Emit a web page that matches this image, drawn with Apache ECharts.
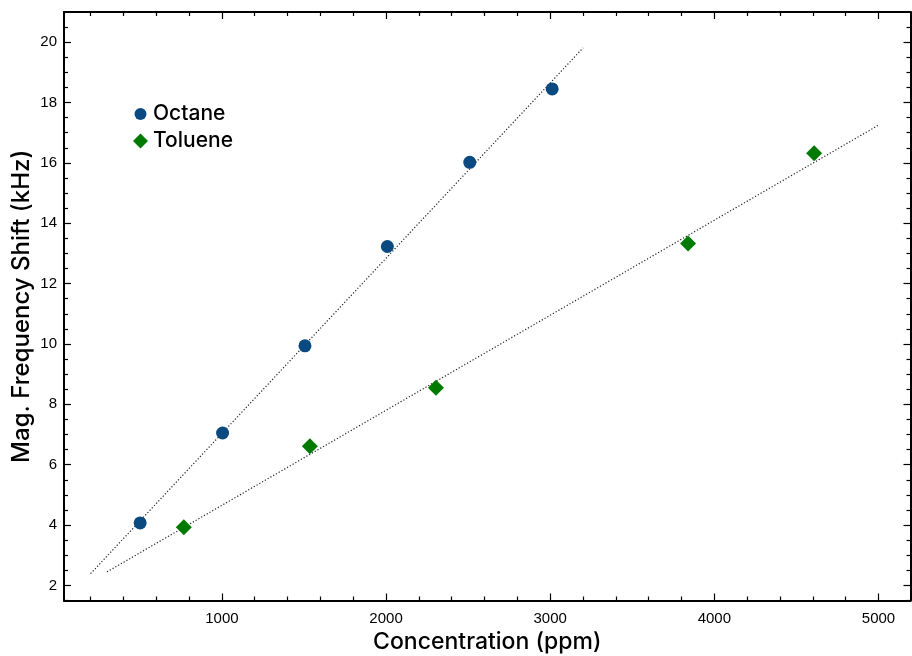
<!DOCTYPE html>
<html>
<head>
<meta charset="utf-8">
<title>Frequency shift vs concentration</title>
<script src="https://cdn.jsdelivr.net/npm/echarts@6/dist/echarts.min.js"></script>
<style>
  html, body { margin: 0; padding: 0; background: #fff; }
  #chart { width: 912px; height: 656px; }
</style>
</head>
<body>
<div id="chart"></div>
<script>
// Measured points: concentration (ppm) vs magnitude of frequency shift (kHz)
const octaneConc   = [502, 1004, 1506, 2008, 2510, 3012];
const octaneShift  = [4.07, 7.05, 9.94, 13.23, 16.02, 18.45];
const tolueneConc  = [768, 1536, 2304, 3840, 4608];
const tolueneShift = [3.93, 6.61, 8.55, 13.33, 16.32];

// Linear fit lines, given by their end points [ppm, kHz]
const octaneFit  = [[200, 2.39], [3200, 19.81]];
const tolueneFit = [[300, 2.45], [5000, 17.25]];

// Tick positions
const xMajorTicks = [1000, 2000, 3000, 4000, 5000];
const xMinorTicks = [200, 400, 600, 800, 1200, 1400, 1600, 1800, 2200, 2400, 2600, 2800,
                     3200, 3400, 3600, 3800, 4200, 4400, 4600, 4800];
const yMajorTicks = [2, 4, 6, 8, 10, 12, 14, 16, 18, 20];
const yMinorTicks = [1.5, 2.5, 3, 3.5, 4.5, 5, 5.5, 6.5, 7, 7.5, 8.5, 9, 9.5, 10.5, 11, 11.5,
                     12.5, 13, 13.5, 14.5, 15, 15.5, 16.5, 17, 17.5, 18.5, 19, 19.5, 20.5];

const X_MIN = 38, X_MAX = 5195, Y_MIN = 1.5, Y_MAX = 21;
const FONT = '"Liberation Sans", Arial, sans-serif';
const TITLE_FONT = 'Inter, "Liberation Sans", sans-serif';
const OCTANE_COLOR = '#0a4a80';
const TOLUENE_COLOR = '#007a00';
// Legend circle kept a little smaller than its 15px box (extra moveTo points pad the bounds)
const LEGEND_CIRCLE = 'path://M0,0M15,15M7.5,1.5A6,6,0,1,1,7.5,13.5A6,6,0,1,1,7.5,1.5Z';

function xAxisDef(pos, ticks, len, withLine, withLabels) {
  return {
    type: 'value', position: pos, min: X_MIN, max: X_MAX,
    axisLine: { show: withLine, onZero: false, lineStyle: { color: '#000', width: 2 } },
    axisTick: { show: true, inside: true, length: len, customValues: ticks,
                lineStyle: { color: '#000', width: 1.2 } },
    axisLabel: withLabels
      ? { show: true, customValues: ticks, margin: 11, color: '#000', fontSize: 15, fontFamily: FONT,
          formatter: v => String(v) }
      : { show: false },
    splitLine: { show: false }
  };
}
function yAxisDef(pos, ticks, len, withLine, withLabels) {
  return {
    type: 'value', position: pos, min: Y_MIN, max: Y_MAX,
    axisLine: { show: withLine, onZero: false, lineStyle: { color: '#000', width: 2 } },
    axisTick: { show: true, inside: true, length: len, customValues: ticks,
                lineStyle: { color: '#000', width: 1.2 } },
    axisLabel: withLabels
      ? { show: true, customValues: ticks, margin: 7, color: '#000', fontSize: 15, fontFamily: FONT,
          formatter: v => String(v) }
      : { show: false },
    splitLine: { show: false }
  };
}

const xMain = xAxisDef('bottom', xMajorTicks, 7, true, true);
xMain.name = 'Concentration (ppm)';
xMain.nameLocation = 'middle';
xMain.nameGap = 30;
xMain.nameMoveOverlap = false;
xMain.nameTextStyle = { color: '#000', fontSize: 23, fontWeight: 500, fontFamily: TITLE_FONT };

const yMain = yAxisDef('left', yMajorTicks, 7, true, true);
yMain.name = 'Mag. Frequency Shift (kHz)';
yMain.nameLocation = 'middle';
yMain.nameGap = 30;
yMain.nameMoveOverlap = false;
yMain.nameTextStyle = { color: '#000', fontSize: 24, fontWeight: 500, fontFamily: TITLE_FONT };

const chart = echarts.init(document.getElementById('chart'), null, { renderer: 'canvas' });
chart.setOption({
  animation: false,
  backgroundColor: '#fff',
  grid: { left: 64, top: 12, right: 1.5, bottom: 55.5, containLabel: false, outerBoundsMode: 'none' },
  xAxis: [
    xMain,
    xAxisDef('bottom', xMinorTicks, 4, false, false),
    xAxisDef('top', xMajorTicks, 7, true, false),
    xAxisDef('top', xMinorTicks, 4, false, false)
  ],
  yAxis: [
    yMain,
    yAxisDef('left', yMinorTicks, 4, false, false),
    yAxisDef('right', yMajorTicks, 7, true, false),
    yAxisDef('right', yMinorTicks, 4, false, false)
  ],
  legend: {
    left: 128, top: 98, orient: 'vertical',
    itemWidth: 15, itemHeight: 15, itemGap: 5,
    data: [
      { name: 'Octane', icon: LEGEND_CIRCLE, itemStyle: { color: OCTANE_COLOR, opacity: 1 } },
      { name: 'Toluene', icon: 'diamond', itemStyle: { color: TOLUENE_COLOR, opacity: 1 } }
    ],
    textStyle: { color: '#000', fontSize: 21, fontWeight: 500, fontFamily: TITLE_FONT, lineHeight: 22 }
  },
  series: [
    {
      type: 'line', name: 'Octane fit', data: octaneFit, xAxisIndex: 0, yAxisIndex: 0,
      showSymbol: false, silent: true,
      lineStyle: { color: '#222', width: 1.2, type: [1.2, 2] }
    },
    {
      type: 'line', name: 'Toluene fit', data: tolueneFit, xAxisIndex: 0, yAxisIndex: 0,
      showSymbol: false, silent: true,
      lineStyle: { color: '#222', width: 1.2, type: [1.2, 2] }
    },
    {
      type: 'scatter', name: 'Octane', xAxisIndex: 0, yAxisIndex: 0,
      data: octaneConc.map((c, i) => [c, octaneShift[i]]),
      symbol: 'circle', symbolSize: 13,
      itemStyle: { color: OCTANE_COLOR, opacity: 1 }, z: 3
    },
    {
      type: 'scatter', name: 'Toluene', xAxisIndex: 0, yAxisIndex: 0,
      data: tolueneConc.map((c, i) => [c, tolueneShift[i]]),
      symbol: 'diamond', symbolSize: 16,
      itemStyle: { color: TOLUENE_COLOR, opacity: 1 }, z: 3
    }
  ]
});
</script>
</body>
</html>
